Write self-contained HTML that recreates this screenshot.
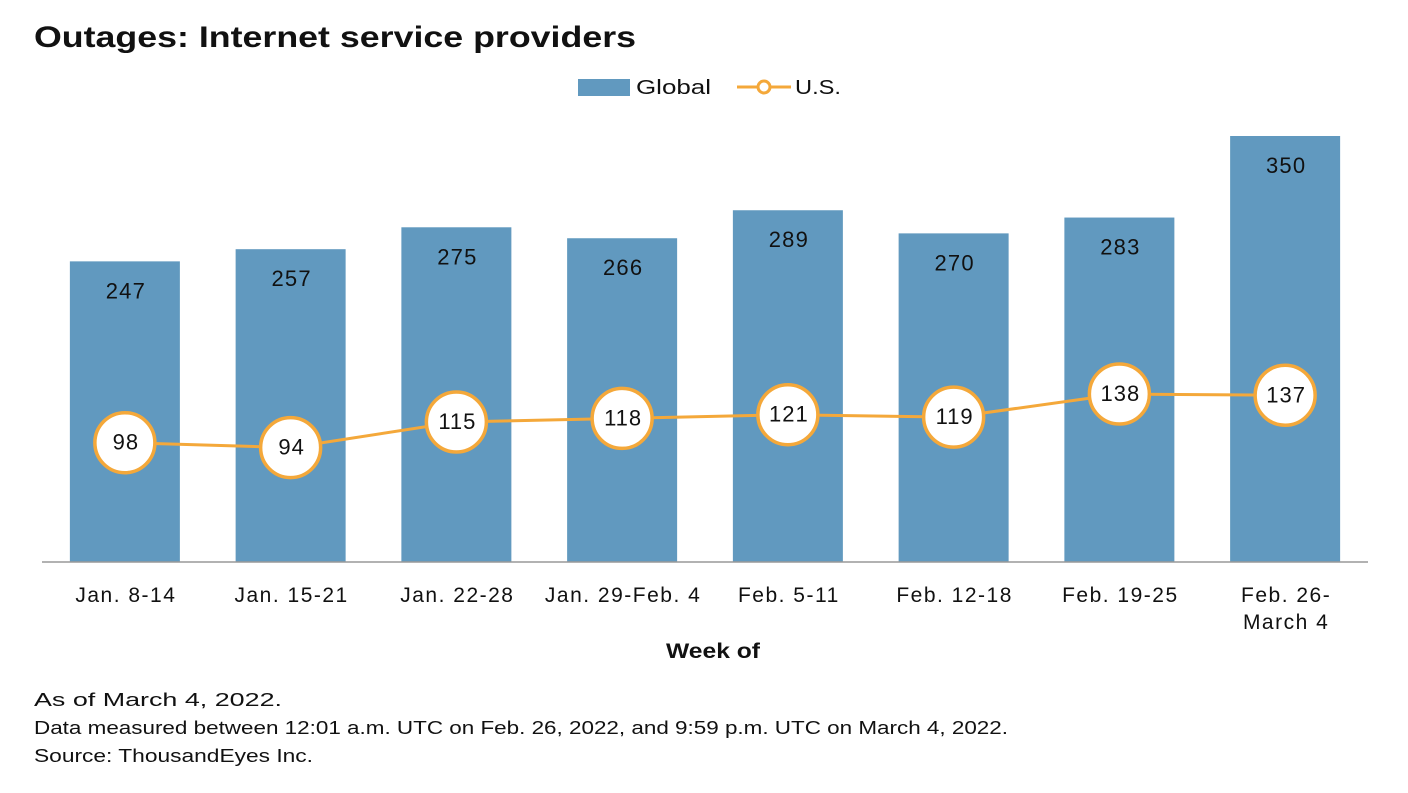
<!DOCTYPE html>
<html><head><meta charset="utf-8">
<style>
body{margin:0;background:#fff;font-family:"Liberation Sans",Arial,sans-serif;}
</style></head>
<body>
<svg width="1408" height="788" xmlns="http://www.w3.org/2000/svg" id="chart" font-family="Liberation Sans, Arial, sans-serif">
<text x="34" y="47" font-size="30" font-weight="bold" fill="#111" textLength="602" lengthAdjust="spacingAndGlyphs">Outages: Internet service providers</text>
<g>
<rect x="578" y="79" width="52" height="17" fill="#6199bf"/>
<text x="636" y="94" font-size="20" fill="#111" textLength="75" lengthAdjust="spacingAndGlyphs">Global</text>
<line x1="737" y1="87" x2="791" y2="87" stroke="#f4a83a" stroke-width="3"/>
<circle cx="764" cy="87" r="6" fill="#fff" stroke="#f4a83a" stroke-width="3"/>
<text x="795" y="94" font-size="20" fill="#111" textLength="46" lengthAdjust="spacingAndGlyphs">U.S.</text>
</g>
<g id="plot"></g>
<text x="666" y="658" font-size="21" font-weight="bold" fill="#111" textLength="94" lengthAdjust="spacingAndGlyphs">Week of</text>
<g font-size="18" fill="#111">
<text x="34" y="706" textLength="248" lengthAdjust="spacingAndGlyphs">As of March 4, 2022.</text>
<text x="34" y="734" textLength="974" lengthAdjust="spacingAndGlyphs">Data measured between 12:01 a.m. UTC on Feb. 26, 2022, and 9:59 p.m. UTC on March 4, 2022.</text>
<text x="34" y="762" textLength="279" lengthAdjust="spacingAndGlyphs">Source: ThousandEyes Inc.</text>
</g>
</svg>
<script>
const categories=[["Jan. 8-14"],["Jan. 15-21"],["Jan. 22-28"],["Jan. 29-Feb. 4"],["Feb. 5-11"],["Feb. 12-18"],["Feb. 19-25"],["Feb. 26-","March 4"]];
const globalValues=[247,257,275,266,289,270,283,350];
const usValues=[98,94,115,118,121,119,138,137];
const NS="http://www.w3.org/2000/svg";
const plot=document.getElementById('plot');
const left=42,right=1368,base=562,pxPerUnit=426/350;
const band=(right-left)/categories.length,barW=110;
const x=i=>left+band*(i+0.5);
const y=v=>base-v*pxPerUnit;
function mk(tag,attrs,parent){const e=document.createElementNS(NS,tag);for(const k in attrs)e.setAttribute(k,attrs[k]);(parent||plot).appendChild(e);return e;}
globalValues.forEach((v,i)=>{
 const r=mk('rect',{x:x(i)-barW/2,y:y(v),width:barW,height:base-y(v),fill:'#6199bf'});
 
 
 const t=mk('text',{x:x(i)+1,y:y(v)+37,'font-size':22,'text-anchor':'middle',fill:'#111','letter-spacing':1.2});
 t.textContent=v;
 
 
});
const ax=mk('line',{x1:left,x2:right,y1:base,y2:base,stroke:'#999','stroke-width':1.5});


categories.forEach((c,i)=>{
 c.forEach((ln,j)=>{
  const t=mk('text',{x:x(i)+1,y:602+j*27,'font-size':21,'text-anchor':'middle',fill:'#111','letter-spacing':1.5});
  t.textContent=ln;
  
  
 });
});
const pl=mk('polyline',{points:usValues.map((v,i)=>x(i)+','+y(v)).join(' '),fill:'none',stroke:'#f4a83a','stroke-width':3});


usValues.forEach((v,i)=>{
 const c=mk('circle',{cx:x(i),cy:y(v),r:30,fill:'#fff',stroke:'#f4a83a','stroke-width':3.5});
 
 
 const t=mk('text',{x:x(i)+1,y:y(v)+7,'font-size':22,'text-anchor':'middle',fill:'#111','letter-spacing':1});
 t.textContent=v;
 
 
});
</script>
</body></html>
